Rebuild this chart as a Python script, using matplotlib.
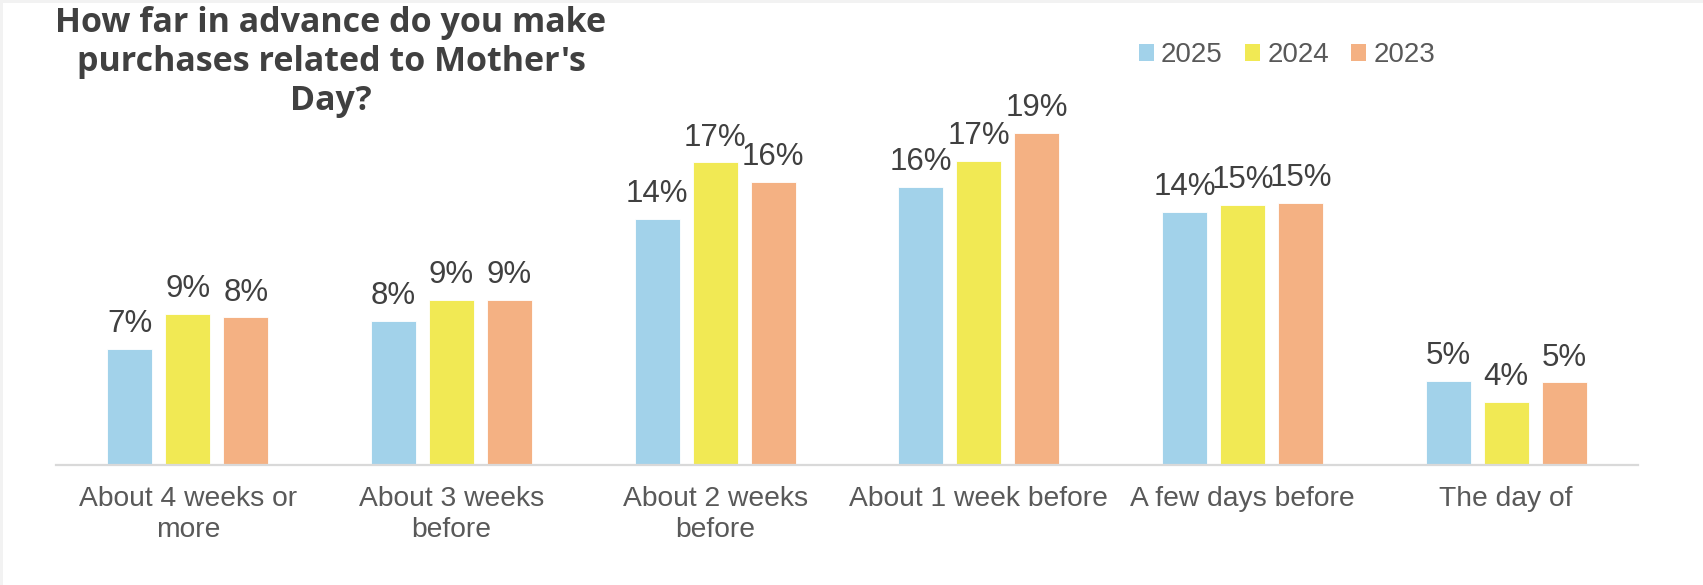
import numpy as np
import matplotlib.pyplot as plt
from matplotlib.patches import Rectangle, Patch

categories = ['About 4 weeks or\nmore', 'About 3 weeks\nbefore', 'About 2 weeks\nbefore',
              'About 1 week before', 'A few days before', 'The day of']
years = ['2025', '2024', '2023']
y2025 = [6.6, 8.2, 14.0, 15.8, 14.4, 4.8]
y2024 = [8.6, 9.4, 17.2, 17.3, 14.8, 3.6]
y2023 = [8.4, 9.4, 16.1, 18.9, 14.9, 4.7]
colors = ['#a2d2ea', '#f1e954', '#f4b183']

plt.rcParams['font.family'] = ['Liberation Sans', 'DejaVu Sans']

W, H = 1703, 585
fig = plt.figure(figsize=(W / 100, H / 100), dpi=100)
fig.patch.set_facecolor('#f2f2f2')
fig.patches.append(Rectangle((3 / W, 0), 1, 1 - 3 / H, transform=fig.transFigure,
                             facecolor='white', edgecolor='none', zorder=-10))

# plot area in pixels: x 56..1638, baseline at y=465 from top
ax = fig.add_axes([56 / W, 120 / H, 1582 / W, 387 / H])
ax.set_facecolor('none')

x = np.arange(len(categories))
bw = 0.171
step = 0.22
for i, (vals, c) in enumerate(zip([y2025, y2024, y2023], colors)):
    pos = x + (i - 1) * step
    bars = ax.bar(pos, vals, width=bw, color=c, edgecolor='white', linewidth=0.6)
    for b, v in zip(bars, vals):
        ax.annotate(f'{v:.0f}%', (b.get_x() + b.get_width() / 2, v),
                    xytext=(0, 7), textcoords='offset points',
                    ha='center', va='bottom', fontsize=22.5, color='#404040')

ax.set_xlim(-0.5, 5.5)
ax.set_ylim(0, 22)
ax.set_yticks([])
ax.set_xticks(x)
ax.set_xticklabels(categories, fontsize=20.3, color='#595959', linespacing=1.25)
ax.tick_params(axis='x', length=0, pad=15)
for s in ['top', 'right', 'left']:
    ax.spines[s].set_visible(False)
ax.spines['bottom'].set_color('#d9d9d9')
ax.spines['bottom'].set_linewidth(1.6)

fig.text(331 / W, 1 - 62 / H, "How far in advance do you make\npurchases related to Mother's\nDay?",
         ha='center', va='center', fontsize=24.5, fontweight='bold', color='#404040',
         family=['Open Sans', 'DejaVu Sans'], linespacing=1.2)

handles = [Patch(facecolor=c, edgecolor='none') for c in colors]
fig.legend(handles, years, loc='center', bbox_to_anchor=(1287 / W, 1 - 55 / H), ncol=3,
           frameon=False, fontsize=20, labelcolor='#595959',
           handlelength=0.55, handleheight=0.55, handletextpad=0.25, columnspacing=0.8)

fig.savefig('out.png', dpi=100)
